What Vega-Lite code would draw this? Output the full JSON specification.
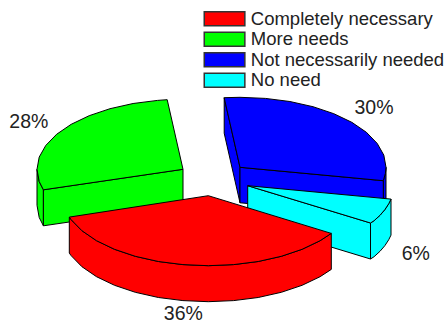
{
"$schema":"https://vega.github.io/schema/vega-lite/v6.json",
"width":448,"height":324,"padding":0,"autosize":{"type":"none"},
"background":"white",
"config":{"view":{"stroke":null}},
"layer":[
{"data":{"values":[
{"face":"blue-rim","slice":"Not necessarily needed","x":386,"y":167.3},{"face":"blue-rim","slice":"Not necessarily needed","x":385.4,"y":173.4},{"face":"blue-rim","slice":"Not necessarily needed","x":383.3,"y":180.7},{"face":"blue-rim","slice":"Not necessarily needed","x":383.3,"y":216.2},{"face":"blue-rim","slice":"Not necessarily needed","x":385.4,"y":208.9},{"face":"blue-rim","slice":"Not necessarily needed","x":386,"y":202.8},{"face":"blue-rim","slice":"Not necessarily needed","x":386,"y":167.3},
{"face":"blue-cut-a","slice":"Not necessarily needed","x":224.2,"y":97.7},{"face":"blue-cut-a","slice":"Not necessarily needed","x":240,"y":167.3},{"face":"blue-cut-a","slice":"Not necessarily needed","x":240,"y":202.8},{"face":"blue-cut-a","slice":"Not necessarily needed","x":224.2,"y":133.2},{"face":"blue-cut-a","slice":"Not necessarily needed","x":224.2,"y":97.7},
{"face":"blue-cut-b","slice":"Not necessarily needed","x":240,"y":167.3},{"face":"blue-cut-b","slice":"Not necessarily needed","x":383.3,"y":180.7},{"face":"blue-cut-b","slice":"Not necessarily needed","x":383.3,"y":216.2},{"face":"blue-cut-b","slice":"Not necessarily needed","x":240,"y":202.8},{"face":"blue-cut-b","slice":"Not necessarily needed","x":240,"y":167.3},
{"face":"blue-top","slice":"Not necessarily needed","x":240,"y":167.3},{"face":"blue-top","slice":"Not necessarily needed","x":224.2,"y":97.7},{"face":"blue-top","slice":"Not necessarily needed","x":240,"y":97.3},{"face":"blue-top","slice":"Not necessarily needed","x":265.4,"y":98.4},{"face":"blue-top","slice":"Not necessarily needed","x":289.9,"y":101.5},{"face":"blue-top","slice":"Not necessarily needed","x":313,"y":106.7},{"face":"blue-top","slice":"Not necessarily needed","x":333.8,"y":113.7},{"face":"blue-top","slice":"Not necessarily needed","x":351.8,"y":122.3},{"face":"blue-top","slice":"Not necessarily needed","x":366.4,"y":132.3},{"face":"blue-top","slice":"Not necessarily needed","x":377.2,"y":143.4},{"face":"blue-top","slice":"Not necessarily needed","x":383.8,"y":155.1},{"face":"blue-top","slice":"Not necessarily needed","x":386,"y":167.3},{"face":"blue-top","slice":"Not necessarily needed","x":385.4,"y":173.4},{"face":"blue-top","slice":"Not necessarily needed","x":383.3,"y":180.7},{"face":"blue-top","slice":"Not necessarily needed","x":240,"y":167.3},

{"face":"green-rim","slice":"More needs","x":43.4,"y":189.8},{"face":"green-rim","slice":"More needs","x":39.2,"y":181.5},{"face":"green-rim","slice":"More needs","x":37,"y":169.3},{"face":"green-rim","slice":"More needs","x":37,"y":205.3},{"face":"green-rim","slice":"More needs","x":39.2,"y":217.5},{"face":"green-rim","slice":"More needs","x":43.4,"y":225.8},{"face":"green-rim","slice":"More needs","x":43.4,"y":189.8},
{"face":"green-cut","slice":"More needs","x":183,"y":169.3},{"face":"green-cut","slice":"More needs","x":43.4,"y":189.8},{"face":"green-cut","slice":"More needs","x":43.4,"y":225.8},{"face":"green-cut","slice":"More needs","x":183,"y":205.3},{"face":"green-cut","slice":"More needs","x":183,"y":169.3},
{"face":"green-top","slice":"More needs","x":183,"y":169.3},{"face":"green-top","slice":"More needs","x":43.4,"y":189.8},{"face":"green-top","slice":"More needs","x":39.2,"y":181.5},{"face":"green-top","slice":"More needs","x":37,"y":169.3},{"face":"green-top","slice":"More needs","x":39.2,"y":157.1},{"face":"green-top","slice":"More needs","x":45.8,"y":145.4},{"face":"green-top","slice":"More needs","x":56.6,"y":134.3},{"face":"green-top","slice":"More needs","x":71.2,"y":124.3},{"face":"green-top","slice":"More needs","x":89.2,"y":115.7},{"face":"green-top","slice":"More needs","x":110,"y":108.7},{"face":"green-top","slice":"More needs","x":133.1,"y":103.5},{"face":"green-top","slice":"More needs","x":157.6,"y":100.4},{"face":"green-top","slice":"More needs","x":167.2,"y":99.7},{"face":"green-top","slice":"More needs","x":183,"y":169.3},

{"face":"cyan-cut","slice":"No need","x":247.7,"y":185.7},{"face":"cyan-cut","slice":"No need","x":370.5,"y":223},{"face":"cyan-cut","slice":"No need","x":370.5,"y":259},{"face":"cyan-cut","slice":"No need","x":247.7,"y":221.7},{"face":"cyan-cut","slice":"No need","x":247.7,"y":185.7},
{"face":"cyan-rim","slice":"No need","x":391,"y":199.1},{"face":"cyan-rim","slice":"No need","x":388.7,"y":203.8},{"face":"cyan-rim","slice":"No need","x":384.9,"y":209.6},{"face":"cyan-rim","slice":"No need","x":380,"y":215.3},{"face":"cyan-rim","slice":"No need","x":374.1,"y":220.7},{"face":"cyan-rim","slice":"No need","x":370.5,"y":223},{"face":"cyan-rim","slice":"No need","x":370.5,"y":259},{"face":"cyan-rim","slice":"No need","x":374.1,"y":256.7},{"face":"cyan-rim","slice":"No need","x":380,"y":251.3},{"face":"cyan-rim","slice":"No need","x":384.9,"y":245.6},{"face":"cyan-rim","slice":"No need","x":388.7,"y":239.8},{"face":"cyan-rim","slice":"No need","x":391,"y":235.1},{"face":"cyan-rim","slice":"No need","x":391,"y":199.1},
{"face":"cyan-top","slice":"No need","x":247.7,"y":185.7},{"face":"cyan-top","slice":"No need","x":391,"y":199.1},{"face":"cyan-top","slice":"No need","x":388.7,"y":203.8},{"face":"cyan-top","slice":"No need","x":384.9,"y":209.6},{"face":"cyan-top","slice":"No need","x":380,"y":215.3},{"face":"cyan-top","slice":"No need","x":374.1,"y":220.7},{"face":"cyan-top","slice":"No need","x":370.5,"y":223},{"face":"cyan-top","slice":"No need","x":247.7,"y":185.7},

{"face":"red-rim","slice":"Completely necessary","x":331.3,"y":233.4},{"face":"red-rim","slice":"Completely necessary","x":320.1,"y":240.7},{"face":"red-rim","slice":"Completely necessary","x":302.1,"y":249.3},{"face":"red-rim","slice":"Completely necessary","x":281.3,"y":256.3},{"face":"red-rim","slice":"Completely necessary","x":258.2,"y":261.5},{"face":"red-rim","slice":"Completely necessary","x":233.7,"y":264.6},{"face":"red-rim","slice":"Completely necessary","x":208.3,"y":265.7},{"face":"red-rim","slice":"Completely necessary","x":182.9,"y":264.6},{"face":"red-rim","slice":"Completely necessary","x":158.4,"y":261.5},{"face":"red-rim","slice":"Completely necessary","x":135.3,"y":256.3},{"face":"red-rim","slice":"Completely necessary","x":114.5,"y":249.3},{"face":"red-rim","slice":"Completely necessary","x":96.5,"y":240.7},{"face":"red-rim","slice":"Completely necessary","x":81.9,"y":230.7},{"face":"red-rim","slice":"Completely necessary","x":71.1,"y":219.6},{"face":"red-rim","slice":"Completely necessary","x":69.3,"y":217.1},
{"face":"red-rim","slice":"Completely necessary","x":69.3,"y":253.1},{"face":"red-rim","slice":"Completely necessary","x":71.1,"y":255.6},{"face":"red-rim","slice":"Completely necessary","x":81.9,"y":266.7},{"face":"red-rim","slice":"Completely necessary","x":96.5,"y":276.7},{"face":"red-rim","slice":"Completely necessary","x":114.5,"y":285.3},{"face":"red-rim","slice":"Completely necessary","x":135.3,"y":292.3},{"face":"red-rim","slice":"Completely necessary","x":158.4,"y":297.5},{"face":"red-rim","slice":"Completely necessary","x":182.9,"y":300.6},{"face":"red-rim","slice":"Completely necessary","x":208.3,"y":301.7},{"face":"red-rim","slice":"Completely necessary","x":233.7,"y":300.6},{"face":"red-rim","slice":"Completely necessary","x":258.2,"y":297.5},{"face":"red-rim","slice":"Completely necessary","x":281.3,"y":292.3},{"face":"red-rim","slice":"Completely necessary","x":302.1,"y":285.3},{"face":"red-rim","slice":"Completely necessary","x":320.1,"y":276.7},{"face":"red-rim","slice":"Completely necessary","x":331.3,"y":269.4},{"face":"red-rim","slice":"Completely necessary","x":331.3,"y":233.4},
{"face":"red-top","slice":"Completely necessary","x":208.3,"y":195.7},{"face":"red-top","slice":"Completely necessary","x":331.3,"y":233.4},{"face":"red-top","slice":"Completely necessary","x":320.1,"y":240.7},{"face":"red-top","slice":"Completely necessary","x":302.1,"y":249.3},{"face":"red-top","slice":"Completely necessary","x":281.3,"y":256.3},{"face":"red-top","slice":"Completely necessary","x":258.2,"y":261.5},{"face":"red-top","slice":"Completely necessary","x":233.7,"y":264.6},{"face":"red-top","slice":"Completely necessary","x":208.3,"y":265.7},{"face":"red-top","slice":"Completely necessary","x":182.9,"y":264.6},{"face":"red-top","slice":"Completely necessary","x":158.4,"y":261.5},{"face":"red-top","slice":"Completely necessary","x":135.3,"y":256.3},{"face":"red-top","slice":"Completely necessary","x":114.5,"y":249.3},{"face":"red-top","slice":"Completely necessary","x":96.5,"y":240.7},{"face":"red-top","slice":"Completely necessary","x":81.9,"y":230.7},{"face":"red-top","slice":"Completely necessary","x":71.1,"y":219.6},{"face":"red-top","slice":"Completely necessary","x":69.3,"y":217.1},{"face":"red-top","slice":"Completely necessary","x":208.3,"y":195.7}
]},
"mark":{"type":"line","stroke":"black","strokeWidth":1,"strokeJoin":"miter","interpolate":"linear"},
"encoding":{
"x":{"field":"x","type":"quantitative","scale":{"domain":[0,448]},"axis":null},
"y":{"field":"y","type":"quantitative","scale":{"domain":[324,0]},"axis":null},
"detail":{"field":"face"},
"order":{"value":null},
"fill":{"field":"slice","type":"nominal",
"scale":{"domain":["Completely necessary","More needs","Not necessarily needed","No need"],"range":["#ff0000","#00ff00","#0000ff","#00ffff"]},
"legend":{"title":null,"orient":"none","legendX":215.3,"legendY":9.5,"padding":0,
"symbolType":"M-2.9,-1H2.9V1H-2.9Z","symbolSize":196,"symbolStrokeColor":"#333333","symbolStrokeWidth":1.5,
"labelFont":"Liberation Sans","labelFontSize":18.5,"labelColor":"#222222","labelOffset":17,"labelLimit":260,"rowPadding":-0.5}}
}},
{"data":{"values":[
{"label":"28%","x":28.8,"y":128.3},
{"label":"30%","x":374,"y":114},
{"label":"6%","x":415.8,"y":260},
{"label":"36%","x":183.3,"y":319.5}
]},
"mark":{"type":"text","font":"Liberation Sans","fontSize":19.5,"color":"#222222","align":"center","baseline":"alphabetic"},
"encoding":{
"x":{"field":"x","type":"quantitative","scale":{"domain":[0,448]},"axis":null},
"y":{"field":"y","type":"quantitative","scale":{"domain":[324,0]},"axis":null},
"text":{"field":"label"}
}}
]
}
